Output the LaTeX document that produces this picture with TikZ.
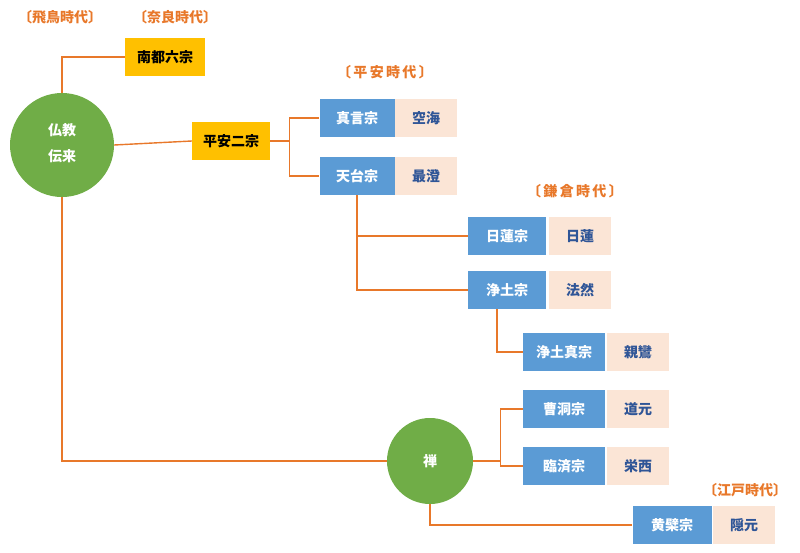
\documentclass[tikz,border=0pt]{standalone}
\usepackage{fontspec}
\setmainfont{Noto Sans CJK JP}
\definecolor{lineor}{HTML}{E8782A}
\definecolor{sectblue}{HTML}{5B9BD5}
\definecolor{founder}{HTML}{FBE5D6}
\definecolor{namecol}{HTML}{2F5597}
\definecolor{goldbox}{HTML}{FFC000}
\definecolor{budgreen}{HTML}{70AD47}

\begin{document}
\begin{tikzpicture}
                     [x=1pt,y=-1pt,every node/.style={inner sep=0pt,font=\bfseries\fontsize{14}{16}\selectfont},
                      sect/.style={fill=sectblue,text=white,minimum height=38pt},
                      teacher/.style={fill=founder,text=namecol,minimum width=62pt,minimum height=38pt},
                      gold/.style={fill=goldbox,text=black,minimum width=80pt,minimum height=38pt},
                      root/.style={circle,fill=budgreen,text=white},
                      era/.style={text=lineor},
                      link/.style={draw=lineor,line width=1.4pt}]
                     \useasboundingbox (0,0) rectangle (800,552);
                     \node[root,minimum size=104pt] (bk) at (62,145) {\begin{tabular}{c}仏教\\[10pt]伝来\end{tabular}};
                     \node[era] (asuka) at (60,17) {〔飛鳥時代〕};
                     \node[era] (nara) at (175,17) {〔奈良時代〕};
                     \node[gold] (nanto) at (165,57) {南都六宗};
                     \node[gold,minimum width=78pt] (heian) at (231,141) {平安二宗};
                     \node[era] (eheian) at (385,72) {〔\,平\,安\,時\,代\,〕};
                     \node[sect,minimum width=75pt] (shingon) at (357,118) {真言宗};
                     \node[teacher] (kukai) at (426,118) {空海};
                     \node[sect,minimum width=75pt] (tendai) at (357,176) {天台宗};
                     \node[teacher] (saicho) at (426,176) {最澄};
                     \node[era] (ekama) at (575,191) {〔\,鎌\,倉\,時\,代\,〕};
                     \node[sect,minimum width=78pt] (nichiren) at (507,236) {日蓮宗};
                     \node[teacher] (nichi) at (580,236) {日蓮};
                     \node[sect,minimum width=78pt] (jodo) at (507,290) {浄土宗};
                     \node[teacher] (honen) at (580,290) {法然};
                     \node[sect,minimum width=82pt] (shin) at (564,352) {浄土真宗};
                     \node[teacher] (shinran) at (638,352) {親鸞};
                     \node[sect,minimum width=82pt] (soto) at (564,409) {曹洞宗};
                     \node[teacher] (dogen) at (638,409) {道元};
                     \node[sect,minimum width=82pt] (rinzai) at (564,466) {臨済宗};
                     \node[teacher] (eisai) at (638,466) {栄西};
                     \node[root,minimum size=86pt] (zen) at (430,461) {禅};
                     \node[era] (edo) at (745,490) {〔江戸時代〕};
                     \node[sect,minimum width=79pt] (obaku) at (672,525) {黄檗宗};
                     \node[teacher] (ingen) at (744,525) {隠元};
                     \draw[link] (bk.north) |- (nanto.west);
                     \draw[link] (bk.east) -- (heian.west);
                     \draw[link] (heian.east) -- ++(19,0) |- (shingon.west);
                     \draw[link] (heian.east) -- ++(19,0) |- (tendai.west);
                     \draw[link] (tendai.south) |- (nichiren.west);
                     \draw[link] (tendai.south) |- (jodo.west);
                     \draw[link] ([xshift=-10pt]jodo.south) |- (shin.west);
                     \draw[link] (bk.south) |- (zen.west);
                     \draw[link] (zen.east) -- ++(27,0) |- (soto.west);
                     \draw[link] (zen.east) -- ++(27,0) |- (rinzai.west);
                     \draw[link] (zen.south) |- (obaku.west);
                   \end{tikzpicture}
\end{document}
